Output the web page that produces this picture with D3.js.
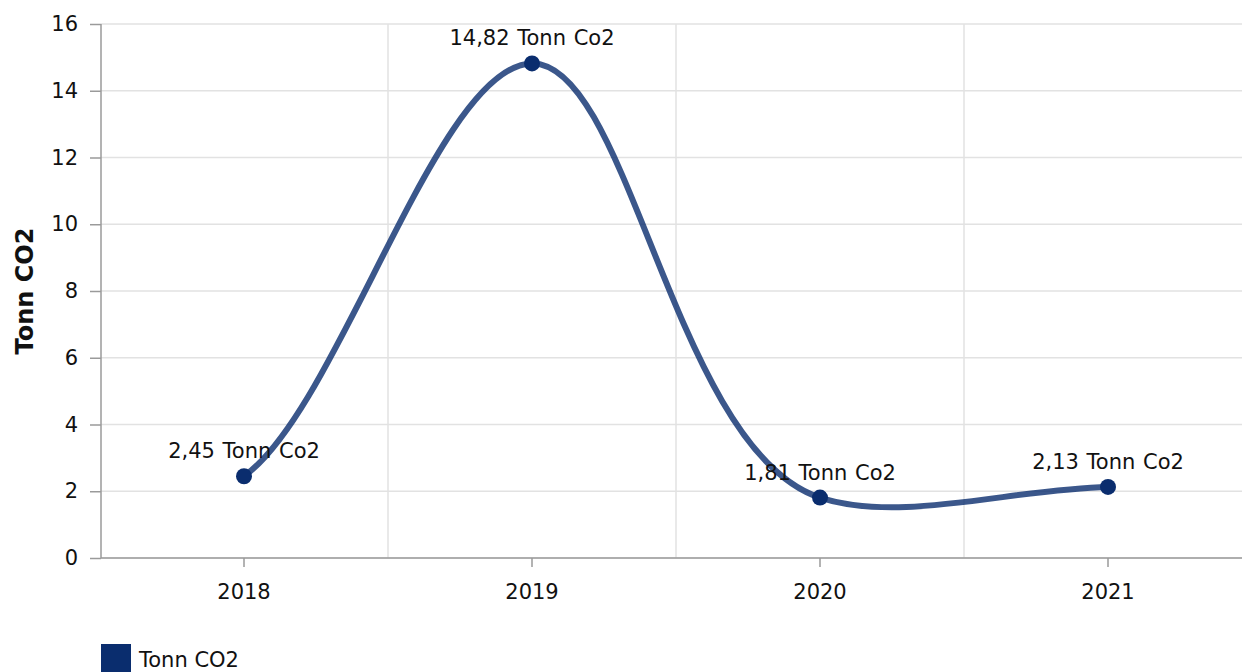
<!DOCTYPE html>
<html>
<head>
<meta charset="utf-8">
<script src="https://cdn.jsdelivr.net/npm/d3@7"></script>
<style>
  body { margin: 0; background: #fff; }
  svg { display: block; font-family: "DejaVu Sans", Verdana, sans-serif; }
  .axis text { font-family: "DejaVu Sans", Verdana, sans-serif; font-size: 21px; fill: #111; }
  .axis .domain { stroke: #9a9a9a; stroke-width: 1.5; }
  .axis .tick line { stroke: #9a9a9a; stroke-width: 1.5; }
  .grid line { stroke: #e2e2e2; stroke-width: 1.5; }
</style>
</head>
<body>
<svg class="chart" width="1242" height="672"></svg>
<script>
var years = ["2018", "2019", "2020", "2021"];
var values = [2.45, 14.82, 1.81, 2.13];
var yTicks = [0, 2, 4, 6, 8, 10, 12, 14, 16];
var seriesName = "Tonn CO2";
var axisTitle = "Tonn CO2";
var unitLabel = "Tonn Co2";

var margin = {top: 24, left: 101, bottom: 114},
    width = 1242,
    height = 672;

var svg = d3.select(".chart");

var x = d3.scaleBand().domain(years).range([100, 1252]);
var y = d3.scaleLinear().domain([0, 16]).range([height - margin.bottom, margin.top]);

var lineColor = "#0a2d6e";

// spline: chordal catmull-rom inside, half-slope tangents at both ends
function smoothCurve(context) {
    var pts;
    function dist(a, b) { return Math.sqrt((b[0] - a[0]) * (b[0] - a[0]) + (b[1] - a[1]) * (b[1] - a[1])); }
    return {
        lineStart: function() { pts = []; },
        point: function(px, py) { pts.push([+px, +py]); },
        lineEnd: function() {
            var n = pts.length;
            if (!n) return;
            context.moveTo(pts[0][0], pts[0][1]);
            var outC = [], inC = [];
            for (var i = 1; i < n - 1; i++) {
                var p = pts[i], a = pts[i - 1], b = pts[i + 1];
                var dp = dist(a, p), dn = dist(p, b);
                outC[i] = [p[0] + (dp * dp * (b[0] - p[0]) + dn * dn * (p[0] - a[0])) / (3 * dp * (dp + dn)),
                           p[1] + (dp * dp * (b[1] - p[1]) + dn * dn * (p[1] - a[1])) / (3 * dp * (dp + dn))];
                inC[i] = [p[0] - (dn * dn * (p[0] - a[0]) + dp * dp * (b[0] - p[0])) / (3 * dn * (dp + dn)),
                          p[1] - (dn * dn * (p[1] - a[1]) + dp * dp * (b[1] - p[1])) / (3 * dn * (dp + dn))];
            }
            if (n > 1) {
                outC[0] = [pts[0][0] + (pts[1][0] - pts[0][0]) / 3, pts[0][1] + (pts[1][1] - pts[0][1]) / 6];
                inC[n - 1] = [pts[n - 1][0] - (pts[n - 1][0] - pts[n - 2][0]) / 3, pts[n - 1][1] - (pts[n - 1][1] - pts[n - 2][1]) / 6];
            }
            for (var j = 1; j < n; j++) {
                context.bezierCurveTo(outC[j - 1][0], outC[j - 1][1], inC[j][0], inC[j][1], pts[j][0], pts[j][1]);
            }
        }
    };
}

// grid
svg.append("g")
    .attr("class", "grid")
    .selectAll("line.h")
    .data(yTicks)
    .enter().append("line")
    .attr("x1", margin.left).attr("x2", width)
    .attr("y1", function(d) { return y(d); })
    .attr("y2", function(d) { return y(d); });

svg.select(".grid")
    .selectAll("line.v")
    .data(years.slice(1))
    .enter().append("line")
    .attr("x1", function(d) { return x(d); })
    .attr("x2", function(d) { return x(d); })
    .attr("y1", y(16)).attr("y2", y(0));

// axes
svg.append("g")
    .attr("class", "axis y")
    .attr("transform", "translate(" + margin.left + ",0)")
    .call(d3.axisLeft(y).tickValues(yTicks).tickSize(11).tickPadding(12).tickSizeOuter(0));

svg.append("g")
    .attr("class", "axis x")
    .attr("transform", "translate(0," + y(0) + ")")
    .call(d3.axisBottom(x).tickSize(9).tickPadding(17).tickSizeOuter(0))
    .select(".domain").attr("d", "M" + margin.left + ",0H" + 1252);

svg.select(".axis.y .domain").attr("d", "M0," + y(16) + "V" + y(0));

svg.append("text")
    .attr("transform", "translate(33," + ((y(0) + y(16)) / 2) + ") rotate(-90)")
    .attr("text-anchor", "middle")
    .style("font-size", "24px")
    .style("font-weight", "bold")
    .attr("fill", "#111")
    .text(axisTitle);

// line
var line = d3.line()
    .x(function(d, i) { return x(years[i]) + x.bandwidth() / 2; })
    .y(function(d) { return y(d); })
    .curve(smoothCurve);

svg.append("path")
    .datum(values)
    .attr("fill", "none")
    .attr("stroke", lineColor)
    .attr("stroke-opacity", 0.8)
    .attr("stroke-width", 6)
    .attr("stroke-linecap", "round")
    .attr("d", line);

svg.selectAll(".dot")
    .data(values)
    .enter().append("circle")
    .attr("class", "dot")
    .attr("r", 8)
    .attr("cx", function(d, i) { return x(years[i]) + x.bandwidth() / 2; })
    .attr("cy", function(d) { return y(d); })
    .attr("fill", lineColor);

svg.selectAll(".lbl")
    .data(values)
    .enter().append("text")
    .attr("class", "lbl")
    .attr("x", function(d, i) { return x(years[i]) + x.bandwidth() / 2; })
    .attr("y", function(d) { return y(d) - 18; })
    .attr("text-anchor", "middle")
    .style("font-size", "21px")
    .style("word-spacing", "1px")
    .attr("fill", "#111")
    .text(function(d) { return d.toFixed(2).replace(".", ",") + " " + unitLabel; });

// legend
var legend = svg.append("g").attr("transform", "translate(101,644)");
legend.append("rect")
    .attr("width", 30).attr("height", 30)
    .attr("fill", lineColor);
legend.append("text")
    .attr("x", 38).attr("y", 23)
    .style("font-size", "21px")
    .attr("fill", "#111")
    .text(seriesName);
</script>
</body>
</html>
